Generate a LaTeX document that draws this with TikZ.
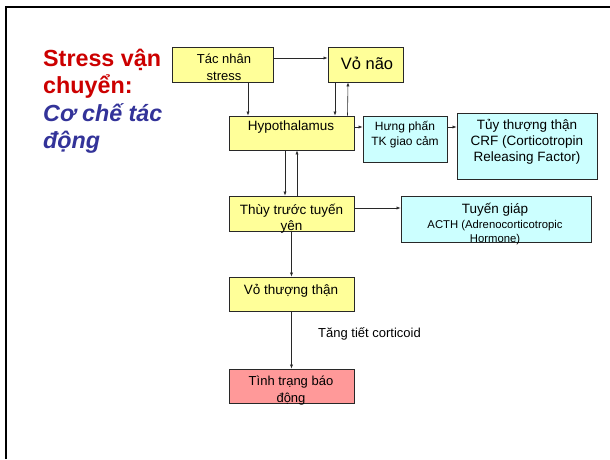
\documentclass[tikz,border=0pt]{standalone}
\usepackage{fontspec}
\setmainfont{Liberation Sans}
\usetikzlibrary{arrows.meta}
\definecolor{boxyellow}{RGB}{255,255,153}
\definecolor{boxcyan}{RGB}{204,255,255}
\definecolor{boxpink}{RGB}{255,153,153}
\definecolor{titlered}{RGB}{204,0,0}
\definecolor{titleblue}{RGB}{51,51,153}
\definecolor{edge}{RGB}{40,40,40}
\tikzset{
  boxbase/.style={draw=edge, line width=0.9pt, inner sep=0pt, rectangle},
  ybox/.style={boxbase, fill=boxyellow},
  cbox/.style={boxbase, fill=boxcyan},
  pbox/.style={boxbase, fill=boxpink},
  txt/.style={inner sep=0pt, align=center, text=black},
  arr/.style={draw=edge, line width=0.6pt, -{Latex[length=4pt,width=3.2pt]}},
  ttl/.style={inner sep=0pt, anchor=base west, font=\fontsize{23.3}{27}\selectfont\bfseries}
}
\begin{document}
\begin{tikzpicture}[x=1pt,y=-1pt]
\useasboundingbox (0,0) rectangle (610,459);
\fill[white] (0,0) rectangle (610,459);
% frame
\draw[line width=2pt, black] (6,459) -- (6,6.5) -- (610,6.5);

% title
\node[ttl, text=titlered] (t1) at (43,66) {Stress vận};
\node[ttl, text=titlered] (t2) at (43,93.5) {chuyển:};
\node[ttl, text=titleblue, font=\fontsize{23.3}{27}\selectfont\bfseries\itshape] (t3) at (43,121) {Cơ chế tác};
\node[ttl, text=titleblue, font=\fontsize{23.3}{27}\selectfont\bfseries\itshape] (t4) at (43,148) {động};

% boxes
\node[ybox, minimum width=101pt, minimum height=35pt] (tn) at (222.5,64.5) {};
\node[ybox, minimum width=75pt, minimum height=35pt] (vn) at (365.5,64.5) {};
\node[ybox, minimum width=125pt, minimum height=34pt] (hyp) at (291.5,133) {};
\node[cbox, minimum width=84pt, minimum height=46pt] (hp) at (405,139) {};
\node[cbox, minimum width=140pt, minimum height=66pt] (tuy) at (527,146) {};
\node[ybox, minimum width=125pt, minimum height=35pt] (thuy) at (291.5,213.5) {};
\node[cbox, minimum width=190pt, minimum height=46pt] (tg) at (496,219) {};
\node[ybox, minimum width=125pt, minimum height=34pt] (vtt) at (291.5,294) {};
\node[pbox, minimum width=125pt, minimum height=34pt] (ttbd) at (291.5,386) {};

% texts
\node[txt, font=\fontsize{13}{17}\selectfont] (tnt) at (224,67) {Tác nhân\\stress};
\node[txt, font=\fontsize{16.5}{19}\selectfont] (vnt) at (367,63) {Vỏ não};
\node[txt, font=\fontsize{13.5}{16}\selectfont] (hypt) at (291,127) {Hypothalamus};
\node[txt, font=\fontsize{12}{15}\selectfont] (hpt) at (405,135) {Hưng phấn\\TK giao cảm};
\node[txt, font=\fontsize{13.5}{16}\selectfont] (tuyt) at (527,142) {Tủy thượng thận\\CRF (Corticotropin\\Releasing Factor)};
\node[txt, font=\fontsize{13.5}{16}\selectfont] (thuyt) at (291.5,219) {Thùy trước tuyến\\yên};
\node[txt, font=\fontsize{13.5}{16}\selectfont] (tgt1) at (495,209.5) {Tuyến giáp};
\node[txt, font=\fontsize{11.3}{14}\selectfont] (tgt2) at (495,232.5) {ACTH (Adrenocorticotropic\\Hormone)};
\node[txt, font=\fontsize{13.5}{16}\selectfont] (vttt) at (291,290.5) {Vỏ thượng thận};
\node[txt, font=\fontsize{13}{16}\selectfont] (ttc) at (369.5,334) {Tăng tiết corticoid};
\node[txt, font=\fontsize{13}{17}\selectfont] (ttbdt) at (291,391) {Tình trạng báo\\động};

% connectors
\draw[arr] ([yshift=6.5pt]tn.east) -- ([yshift=6.5pt]vn.west);
\draw[arr] ([xshift=25.5pt]tn.south) -- ([xshift=-43.5pt]hyp.north);
\draw[arr] ([xshift=-30.5pt]vn.south) -- ([xshift=43.5pt]hyp.north);
\draw[arr] ([xshift=56pt]hyp.north) -- ([xshift=-17.5pt]vn.south);
\draw[arr] ([yshift=6pt]hyp.east) -- ([yshift=12pt]hp.west);
\draw[arr] ([yshift=12pt]hp.east) -- ([yshift=19pt]tuy.west);
\draw[arr] ([xshift=-6.5pt]hyp.south) -- ([xshift=-6.5pt]thuy.north);
\draw[arr] ([xshift=5.5pt]thuy.north) -- ([xshift=5.5pt]hyp.south);
\draw[arr] ([yshift=5.5pt]thuy.east) -- ([yshift=11pt]tg.west);
\draw[arr] (thuy.south) -- (vtt.north);
\draw[arr] (vtt.south) -- (ttbd.north);
\end{tikzpicture}
\end{document}
